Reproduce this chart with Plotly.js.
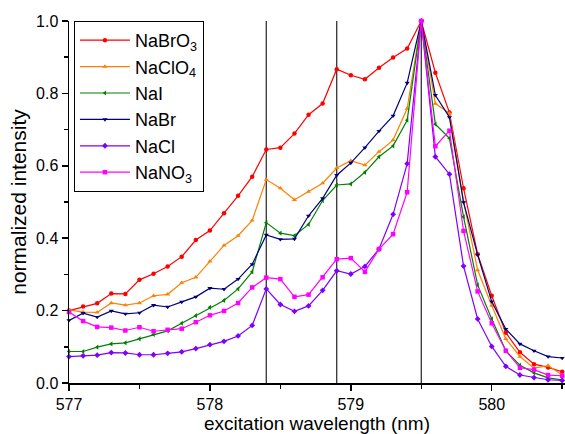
<!DOCTYPE html>
<html>
<head>
<meta charset="utf-8">
<script src="https://cdn.plot.ly/plotly-3.0.1.min.js"></script>
<style>html,body{margin:0;padding:0;background:#fff;}#chart{width:565px;height:434px;}</style>
</head>
<body>
<div id="chart"></div>
<script>
const wavelength = [577.0,577.1,577.2,577.3,577.4,577.5,577.6,577.7,577.8,577.9,
  578.0,578.1,578.2,578.3,578.4,578.5,578.6,578.7,578.8,578.9,
  579.0,579.1,579.2,579.3,579.4,579.5,579.6,579.7,579.8,579.9,
  580.0,580.1,580.2,580.3,580.4,580.5];

const NaBrO3 = [0.200,0.211,0.220,0.247,0.246,0.285,0.302,0.322,0.349,0.395,
  0.421,0.469,0.517,0.570,0.645,0.650,0.689,0.741,0.772,0.867,
  0.850,0.839,0.871,0.899,0.924,1.000,0.857,0.747,0.538,0.356,
  0.241,0.139,0.085,0.052,0.043,0.031];
const NaClO4 = [0.202,0.196,0.195,0.221,0.215,0.221,0.241,0.245,0.277,0.292,
  0.336,0.380,0.407,0.449,0.562,0.538,0.506,0.529,0.552,0.594,
  0.614,0.602,0.639,0.671,0.758,1.000,0.772,0.745,0.501,0.312,
  0.214,0.122,0.073,0.041,0.048,0.022];
const NaI = [0.087,0.087,0.099,0.108,0.111,0.122,0.134,0.144,0.165,0.186,
  0.209,0.228,0.260,0.307,0.443,0.414,0.407,0.438,0.504,0.547,
  0.550,0.582,0.625,0.655,0.726,1.000,0.715,0.676,0.459,0.271,
  0.177,0.089,0.049,0.028,0.014,0.009];
const NaBr = [0.173,0.193,0.182,0.199,0.191,0.194,0.215,0.210,0.224,0.238,
  0.262,0.259,0.287,0.328,0.409,0.397,0.398,0.462,0.510,0.574,
  0.608,0.650,0.696,0.738,0.829,1.000,0.795,0.734,0.499,0.354,
  0.225,0.149,0.108,0.089,0.073,0.069];
const NaCl = [0.073,0.075,0.077,0.084,0.083,0.078,0.078,0.082,0.086,0.095,
  0.106,0.115,0.130,0.159,0.260,0.217,0.198,0.213,0.256,0.310,
  0.301,0.322,0.370,0.466,0.606,1.000,0.625,0.577,0.323,0.177,
  0.101,0.046,0.022,0.015,0.009,0.007];
const NaNO3 = [0.196,0.171,0.155,0.153,0.145,0.154,0.143,0.147,0.150,0.168,
  0.187,0.199,0.221,0.264,0.291,0.287,0.238,0.244,0.292,0.342,
  0.345,0.307,0.370,0.411,0.527,1.000,0.654,0.697,0.420,0.253,
  0.165,0.089,0.042,0.037,0.022,0.020];

const seriesNames = ['NaBrO<sub>3</sub>','NaClO<sub>4</sub>','NaI','NaBr','NaCl','NaNO<sub>3</sub>'];
const seriesValues = [NaBrO3, NaClO4, NaI, NaBr, NaCl, NaNO3];
const seriesColors = ['#ff0000','#ff8000','#008000','#000080','#8000ff','#ff00ff'];
const seriesSymbols = ['circle','triangle-up','triangle-left','triangle-down','diamond','square'];
const markerLines = [578.4, 578.9, 579.5];

const FONT = 'Liberation Sans, Arial, Helvetica, sans-serif';

const traces = seriesValues.map((vals, i) => ({
  x: wavelength, y: vals, name: seriesNames[i], type: 'scatter', mode: 'lines+markers',
  cliponaxis: false,
  line: {color: seriesColors[i], width: 1.2},
  marker: {color: seriesColors[i], symbol: seriesSymbols[i], size: 4.5}
}));

const layout = {
  width: 565, height: 434,
  margin: {l: 69, r: 0, t: 21, b: 51, pad: 0},
  paper_bgcolor: '#fff', plot_bgcolor: '#fff',
  font: {family: FONT, size: 16, color: '#000'},
  showlegend: true,
  legend: {x: 0.01, y: 1.0, xanchor: 'left', yanchor: 'top',
    bgcolor: '#fff', bordercolor: '#000', borderwidth: 1,
    font: {family: FONT, size: 18, color: '#000'}, itemwidth: 50, tracegroupgap: 0},
  xaxis: {
    range: [577, 580.52], tick0: 577, dtick: 1, tickformat: 'd',
    showgrid: false, zeroline: false, showline: true, linecolor: '#000', linewidth: 1.5,
    ticks: 'outside', ticklen: 6, tickwidth: 1.5, tickcolor: '#000',
    minor: {dtick: 0.5, ticks: 'outside', ticklen: 4, tickwidth: 1.5, tickcolor: '#000'},
    tickfont: {family: FONT, size: 16, color: '#000'},
    title: {text: 'excitation wavelength (nm)', font: {family: FONT, size: 19, color: '#000'}, standoff: 4}
  },
  yaxis: {
    range: [0, 1], tick0: 0, dtick: 0.2, tickformat: '.1f',
    showgrid: false, zeroline: false, showline: true, linecolor: '#000', linewidth: 1.5,
    ticks: 'outside', ticklen: 6, tickwidth: 1.5, tickcolor: '#000',
    minor: {dtick: 0.1, ticks: 'outside', ticklen: 4, tickwidth: 1.5, tickcolor: '#000'},
    tickfont: {family: FONT, size: 16, color: '#000'},
    title: {text: 'normalized intensity', font: {family: FONT, size: 21, color: '#000'}, standoff: 3}
  },
  shapes: markerLines.map(v => ({type: 'line', xref: 'x', yref: 'y', x0: v, x1: v, y0: 0, y1: 1.012,
    line: {color: '#222', width: 1.2}, layer: 'below'}))
};

Plotly.newPlot('chart', traces, layout, {displayModeBar: false, staticPlot: true});
</script>
</body>
</html>
